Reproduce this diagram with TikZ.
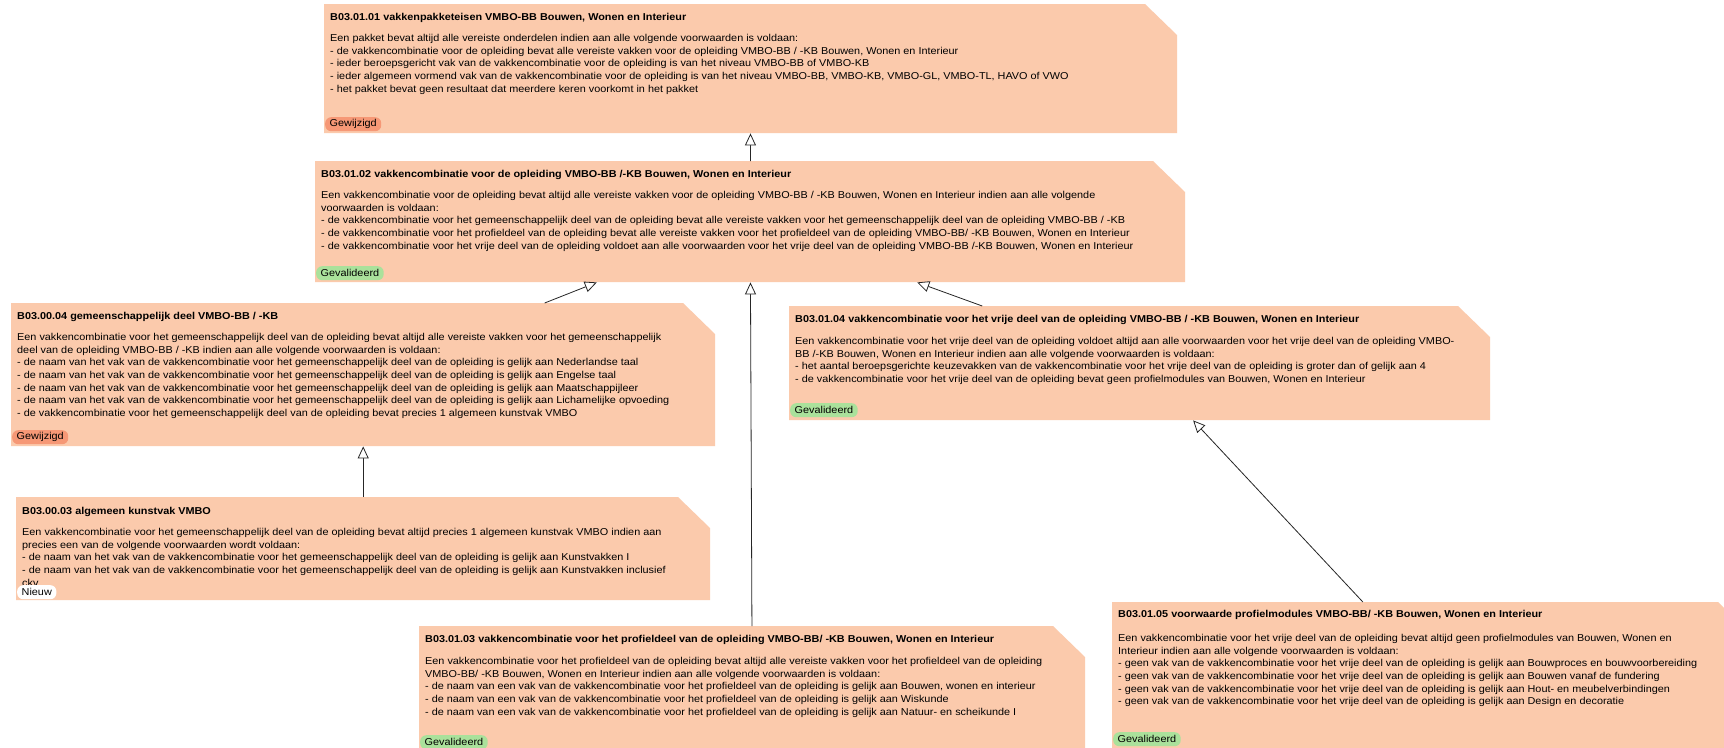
\documentclass[tikz,border=0pt]{standalone}
\usepackage{fontspec}
\setmainfont{Liberation Sans}[FakeStretch=1.085]
\usetikzlibrary{positioning,arrows.meta}
\definecolor{cardpeach}{RGB}{251,202,172}
\definecolor{badgeorange}{RGB}{246,152,118}
\definecolor{badgegreen}{RGB}{170,225,155}
\tikzset{
	card/.style={rectangle, anchor=north west, inner sep=0pt,
		path picture={\fill[cardpeach] (path picture bounding box.south west) -- (path picture bounding box.north west) -- ([xshift=-32pt]path picture bounding box.north east) -- ([yshift=-31pt]path picture bounding box.north east) -- (path picture bounding box.south east) -- cycle;}},
	ttl/.style={anchor=base west, inner sep=0pt, font=\fontsize{10}{12.7}\selectfont\bfseries},
	txt/.style={anchor=north west, inner sep=0pt, align=left, font=\fontsize{10}{12.7}\selectfont},
	badge/.style={rounded corners=6pt, inner xsep=4.5pt, inner ysep=0pt, minimum height=14pt, font=\fontsize{10}{12}\selectfont},
	gewijzigd/.style={badge, fill=badgeorange},
	gevalideerd/.style={badge, fill=badgegreen},
	nieuw/.style={badge, fill=white},
	inherit/.style={draw=black!85, line width=0.8pt, -{Triangle[length=12pt, width=11pt, fill=white]}}
}

\begin{document}
\begin{tikzpicture}[x=1pt, y=-1pt]
		%%%%% START %%%%%
		\useasboundingbox[fill=white] (0,0) rectangle (1724,747);
		
		\node[card, minimum width=853pt, minimum height=129pt] (b1) at (324,4) {};
		\node[ttl] (t1) at ([shift={(6,16)}]b1.north west) {B03.01.01 vakkenpakketeisen VMBO-BB Bouwen, Wonen en Interieur};
		\node[txt] (d1) at ([shift={(6,30)}]b1.north west) {Een pakket bevat altijd alle vereiste onderdelen indien aan alle volgende voorwaarden is voldaan:\\
			- de vakkencombinatie voor de opleiding bevat alle vereiste vakken voor de opleiding VMBO-BB / -KB Bouwen, Wonen en Interieur\\
			- ieder beroepsgericht vak van de vakkencombinatie voor de opleiding is van het niveau VMBO-BB of VMBO-KB\\
			- ieder algemeen vormend vak van de vakkencombinatie voor de opleiding is van het niveau VMBO-BB, VMBO-KB, VMBO-GL, VMBO-TL, HAVO of VWO\\
			- het pakket bevat geen resultaat dat meerdere keren voorkomt in het pakket};
		\node[gewijzigd, above right=2pt and 1pt of b1.south west] (s1) {Gewijzigd};
		
		\node[card, minimum width=870pt, minimum height=121pt] (b2) at (315,161) {};
		\node[ttl] (t2) at ([shift={(6,16)}]b2.north west) {B03.01.02 vakkencombinatie voor de opleiding VMBO-BB /-KB Bouwen, Wonen en Interieur};
		\node[txt] (d2) at ([shift={(6,30)}]b2.north west) {Een vakkencombinatie voor de opleiding bevat altijd alle vereiste vakken voor de opleiding VMBO-BB / -KB Bouwen, Wonen en Interieur indien aan alle volgende\\
			voorwaarden is voldaan:\\
			- de vakkencombinatie voor het gemeenschappelijk deel van de opleiding bevat alle vereiste vakken voor het gemeenschappelijk deel van de opleiding VMBO-BB / -KB\\
			- de vakkencombinatie voor het profieldeel van de opleiding bevat alle vereiste vakken voor het profieldeel van de opleiding VMBO-BB/ -KB Bouwen, Wonen en Interieur\\
			- de vakkencombinatie voor het vrije deel van de opleiding voldoet aan alle voorwaarden voor het vrije deel van de opleiding VMBO-BB /-KB Bouwen, Wonen en Interieur};
		\node[gevalideerd, above right=2pt and 1pt of b2.south west] (s2) {Gevalideerd};
		
		\node[card, minimum width=704pt, minimum height=143pt] (b3) at (11,303) {};
		\node[ttl] (t3) at ([shift={(6,16)}]b3.north west) {B03.00.04 gemeenschappelijk deel VMBO-BB / -KB};
		\node[txt] (d3) at ([shift={(6,30)}]b3.north west) {Een vakkencombinatie voor het gemeenschappelijk deel van de opleiding bevat altijd alle vereiste vakken voor het gemeenschappelijk\\
			deel van de opleiding VMBO-BB / -KB indien aan alle volgende voorwaarden is voldaan:\\
			- de naam van het vak van de vakkencombinatie voor het gemeenschappelijk deel van de opleiding is gelijk aan Nederlandse taal\\
			- de naam van het vak van de vakkencombinatie voor het gemeenschappelijk deel van de opleiding is gelijk aan Engelse taal\\
			- de naam van het vak van de vakkencombinatie voor het gemeenschappelijk deel van de opleiding is gelijk aan Maatschappijleer\\
			- de naam van het vak van de vakkencombinatie voor het gemeenschappelijk deel van de opleiding is gelijk aan Lichamelijke opvoeding\\
			- de vakkencombinatie voor het gemeenschappelijk deel van de opleiding bevat precies 1 algemeen kunstvak VMBO};
		\node[gewijzigd, above right=2pt and 1pt of b3.south west] (s3) {Gewijzigd};
		
		\node[card, minimum width=701pt, minimum height=114pt] (b4) at (789,306) {};
		\node[ttl] (t4) at ([shift={(6,16)}]b4.north west) {B03.01.04 vakkencombinatie voor het vrije deel van de opleiding VMBO-BB / -KB Bouwen, Wonen en Interieur};
		\node[txt] (d4) at ([shift={(6,31)}]b4.north west) {Een vakkencombinatie voor het vrije deel van de opleiding voldoet altijd aan alle voorwaarden voor het vrije deel van de opleiding VMBO-\\
			BB /-KB Bouwen, Wonen en Interieur indien aan alle volgende voorwaarden is voldaan:\\
			- het aantal beroepsgerichte keuzevakken van de vakkencombinatie voor het vrije deel van de opleiding is groter dan of gelijk aan 4\\
			- de vakkencombinatie voor het vrije deel van de opleiding bevat geen profielmodules van Bouwen, Wonen en Interieur};
		\node[gevalideerd, above right=3pt and 1pt of b4.south west] (s4) {Gevalideerd};
		
		\node[card, minimum width=694pt, minimum height=103pt] (b5) at (16,497) {};
		\node[ttl] (t5) at ([shift={(6,17)}]b5.north west) {B03.00.03 algemeen kunstvak VMBO};
		\node[txt] (d5) at ([shift={(6,31)}]b5.north west) {Een vakkencombinatie voor het gemeenschappelijk deel van de opleiding bevat altijd precies 1 algemeen kunstvak VMBO indien aan\\
			precies een van de volgende voorwaarden wordt voldaan:\\
			- de naam van het vak van de vakkencombinatie voor het gemeenschappelijk deel van de opleiding is gelijk aan Kunstvakken I\\
			- de naam van het vak van de vakkencombinatie voor het gemeenschappelijk deel van de opleiding is gelijk aan Kunstvakken inclusief\\
			ckv};
		\node[nieuw, above right=1pt and 1pt of b5.south west] (s5) {Nieuw};
		
		\node[card, minimum width=666pt, minimum height=125pt] (b6) at (419,626) {};
		\node[ttl] (t6) at ([shift={(6,16)}]b6.north west) {B03.01.03 vakkencombinatie voor het profieldeel van de opleiding VMBO-BB/ -KB Bouwen, Wonen en Interieur};
		\node[txt] (d6) at ([shift={(6,31)}]b6.north west) {Een vakkencombinatie voor het profieldeel van de opleiding bevat altijd alle vereiste vakken voor het profieldeel van de opleiding\\
			VMBO-BB/ -KB Bouwen, Wonen en Interieur indien aan alle volgende voorwaarden is voldaan:\\
			- de naam van een vak van de vakkencombinatie voor het profieldeel van de opleiding is gelijk aan Bouwen, wonen en interieur\\
			- de naam van een vak van de vakkencombinatie voor het profieldeel van de opleiding is gelijk aan Wiskunde\\
			- de naam van een vak van de vakkencombinatie voor het profieldeel van de opleiding is gelijk aan Natuur- en scheikunde I};
		\node[gevalideerd, above right=2pt and 1pt of b6.south west] (s6) {Gevalideerd};
		
		\node[card, minimum width=638pt, minimum height=146pt] (b7) at (1112,602) {};
		\node[ttl] (t7) at ([shift={(6,15)}]b7.north west) {B03.01.05 voorwaarde profielmodules VMBO-BB/ -KB Bouwen, Wonen en Interieur};
		\node[txt] (d7) at ([shift={(6,32)}]b7.north west) {Een vakkencombinatie voor het vrije deel van de opleiding bevat altijd geen profielmodules van Bouwen, Wonen en\\
			Interieur indien aan alle volgende voorwaarden is voldaan:\\
			- geen vak van de vakkencombinatie voor het vrije deel van de opleiding is gelijk aan Bouwproces en bouwvoorbereiding\\
			- geen vak van de vakkencombinatie voor het vrije deel van de opleiding is gelijk aan Bouwen vanaf de fundering\\
			- geen vak van de vakkencombinatie voor het vrije deel van de opleiding is gelijk aan Hout- en meubelverbindingen\\
			- geen vak van de vakkencombinatie voor het vrije deel van de opleiding is gelijk aan Design en decoratie};
		\node[gevalideerd, above right=2pt and 1pt of b7.south west] (s7) {Gevalideerd};
		
		\draw[inherit] (b2) -- (b1);
		\draw[inherit] (b3) -- (b2);
		\draw[inherit] (b4) -- (b2);
		\draw[inherit] (b6) -- (b2);
		\draw[inherit] (b5) -- (b3);
		\draw[inherit] (b7) -- (b4);
		%%%%% END %%%%%
\end{tikzpicture}
\end{document}
